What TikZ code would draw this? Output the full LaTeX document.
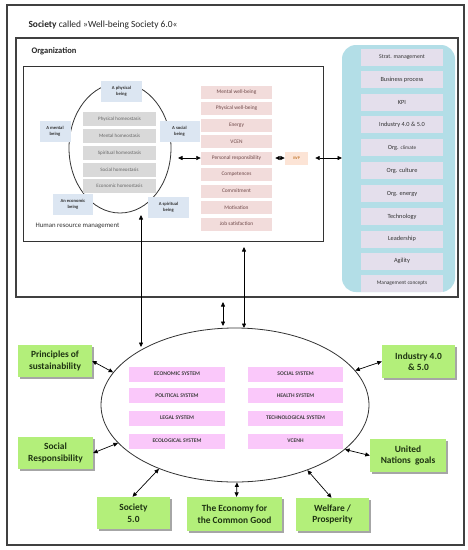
\documentclass[tikz,border=0pt]{standalone}
\usepackage{fontspec}
\setmainfont{Carlito}
\usetikzlibrary{shapes.geometric,arrows.meta,shadows}
\definecolor{bluebox}{HTML}{DCE6F2}
\definecolor{graybox}{HTML}{D9D9D9}
\definecolor{pinkbox}{HTML}{F2DCDB}
\definecolor{iwpbox}{HTML}{FCE4D6}
\definecolor{tealbg}{HTML}{B3DEE7}
\definecolor{lavbox}{HTML}{E4DFEC}
\definecolor{sysbox}{HTML}{FAC8FA}
\definecolor{greenbox}{HTML}{B3EF7A}
\definecolor{greentext}{HTML}{1E3312}
\definecolor{pinktext}{HTML}{6E4848}
\begin{document}
\begin{tikzpicture}[x=1pt,y=-1pt,
  dbl/.style={{Triangle[length=4.5pt,width=4pt]}-{Triangle[length=4.5pt,width=4pt]}, line width=0.7pt},
  frame/.style={draw=black!75, line width=1.1pt},
  hs/.style={fill=graybox, minimum width=73pt, minimum height=14pt, inner sep=0pt, font=\fontsize{5}{6}\selectfont, text=black!60},
  bb/.style={fill=bluebox, minimum width=41pt, minimum height=21pt, inner sep=0pt, align=center, font=\fontsize{4.6}{6}\selectfont\bfseries, text=black!80},
  pl/.style={fill=pinkbox, minimum width=71pt, minimum height=13pt, inner sep=0pt, font=\fontsize{5.4}{6.5}\selectfont, text=pinktext},
  ti/.style={fill=lavbox, minimum width=82pt, minimum height=17pt, inner sep=0pt, font=\fontsize{6.3}{7.5}\selectfont, text=black!80},
  sy/.style={fill=sysbox, minimum height=15pt, inner sep=0pt, font=\fontsize{5.6}{6.5}\selectfont\bfseries, text=black!75},
  gb/.style={fill=greenbox, inner sep=0pt, align=center, font=\fontsize{9.4}{11.5}\selectfont\bfseries, text=greentext,
    drop shadow={shadow xshift=1.5pt, shadow yshift=-1.5pt, fill=black!35, opacity=1}}
]
\useasboundingbox (0,0) rectangle (468,550);
\fill[white] (0,0) rectangle (468,550);

% frames
\draw[frame] (7,5) rectangle (464,545);
\draw[frame] (16,38) rectangle (458,297);
\draw[draw=black!80, line width=1pt] (23,66) rectangle (323,241);
\fill[tealbg, rounded corners=14pt] (342,45) rectangle (455,292);
\coordinate (tealW) at (342,158);

\node[anchor=west, font=\fontsize{9.4}{11}\selectfont, text=black!85] (title) at (25,25) {\textbf{Society} called »Well-being Society 6.0«};
\node[anchor=west, font=\fontsize{8.5}{10}\selectfont\bfseries, text=black!85] (org) at (28,51) {Organization};
\node[anchor=west, font=\fontsize{6.8}{8}\selectfont, text=black!80] (hrml) at (32,226) {Human resource management};

% HRM ellipse
\node[ellipse, draw=black!80, line width=0.8pt, minimum width=102pt, minimum height=130pt, inner sep=0pt] (hrme) at (120,148) {};

\node[hs] (h1) at (119.5,119) {Physical homeostasis};
\node[hs] (h2) at (119.5,136) {Mental homeostasis};
\node[hs] (h3) at (119.5,153) {Spiritual homeostasis};
\node[hs] (h4) at (119.5,169.5) {Social homeostasis};
\node[hs] (h5) at (119.5,186) {Economic homeostasis};

\node[bb] (pb) at (121.5,91.5) {A physical\\being};
\node[bb, minimum width=31pt] (mb) at (55,131.5) {A mental\\being};
\node[bb, minimum width=40pt] (sb) at (179.5,131.5) {A social\\being};
\node[bb, minimum width=40pt] (eb) at (73,204.5) {An economic\\being};
\node[bb] (spb) at (168.5,207.5) {A spiritual\\being};

% pink list
\node[pl] (p1) at (236.5,92) {Mental well-being};
\node[pl] (p2) at (236.5,108.5) {Physical well-being};
\node[pl] (p3) at (236.5,125) {Energy};
\node[pl] (p4) at (236.5,141.5) {VCEN};
\node[pl] (pr) at (236.5,158) {Personal responsibility};
\node[pl] (p6) at (236.5,174.5) {Competences};
\node[pl] (p7) at (236.5,191) {Commitment};
\node[pl] (p8) at (236.5,207.5) {Motivation};
\node[pl] (p9) at (236.5,224) {Job satisfaction};

\node[fill=iwpbox, minimum width=23pt, minimum height=13pt, inner sep=0pt, font=\fontsize{4}{4.5}\selectfont, text=orange!70!black] (iwp) at (296.5,158) {IWP};

% teal items
\node[ti, font=\fontsize{5.8}{6.5}\selectfont] (t1) at (402,57) {Strat. management};
\node[ti] (t2) at (402,79.5) {Business process};
\node[ti] (t3) at (402,102) {KPI};
\node[ti] (t4) at (402,124.5) {Industry 4.0 \& 5.0};
\node[ti] (t5) at (402,147.5) {Org. {\fontsize{5.2}{6}\selectfont climate}};
\node[ti] (t6) at (402,170.5) {Org. culture};
\node[ti] (t7) at (402,193.5) {Org. energy};
\node[ti] (t8) at (402,216.5) {Technology};
\node[ti] (t9) at (402,239) {Leadership};
\node[ti] (t10) at (402,261) {Agility};
\node[ti, font=\fontsize{5.4}{6}\selectfont] (t11) at (402,283) {Management concepts};

% society ellipse
\node[ellipse, draw=black!80, line width=0.8pt, minimum width=268pt, minimum height=154pt, inner sep=0pt] (soc) at (235,405) {};

\node[sy, minimum width=96pt] (s1) at (177,374) {ECONOMIC SYSTEM};
\node[sy, minimum width=96pt] (s2) at (177,395.5) {POLITICAL SYSTEM};
\node[sy, minimum width=96pt] (s3) at (177,418) {LEGAL SYSTEM};
\node[sy, minimum width=96pt] (s4) at (177,441) {ECOLOGICAL SYSTEM};
\node[sy, minimum width=95pt] (s5) at (295.5,374) {SOCIAL SYSTEM};
\node[sy, minimum width=95pt] (s6) at (295.5,395.5) {HEALTH SYSTEM};
\node[sy, minimum width=95pt] (s7) at (295.5,418) {TECHNOLOGICAL SYSTEM};
\node[sy, minimum width=95pt] (s8) at (295.5,441) {VCENH};

% green boxes
\node[gb, minimum width=74pt, minimum height=32pt] (ps) at (55,361) {Principles of\\sustainability};
\node[gb, minimum width=75pt, minimum height=32pt] (sr) at (55.5,453) {Social\\Responsibility};
\node[gb, minimum width=73pt, minimum height=32pt] (s50) at (133.5,513) {Society\\5.0};
\node[gb, minimum width=95pt, minimum height=34pt] (ecg) at (234.5,514) {The Economy for\\the Common Good};
\node[gb, minimum width=73pt, minimum height=33pt] (wp) at (332.5,514.5) {Welfare /\\Prosperity};
\node[gb, minimum width=73pt, minimum height=33pt] (ind) at (418.5,361.5) {Industry 4.0\\\&~5.0};
\node[gb, minimum width=76pt, minimum height=33pt] (un) at (408,455.5) {United\\Nations~ goals};

% connectors
\coordinate (hrmArr) at (178,158);
\draw[dbl] (hrmArr) -- (pr.west);
\draw[dbl, shorten <=3pt] (pr.east) -- (iwp.west);
\draw[dbl, shorten <=7pt] (iwp.east) -- (tealW);

\coordinate (v1t) at (141,215);
\coordinate (v1b) at (141,347);
\draw[dbl] (v1t) -- (v1b);
\coordinate (v2t) at (244,247);
\coordinate (v2b) at (244,328);
\draw[dbl] (v2t) -- (v2b);
\coordinate (v3t) at (223,302);
\coordinate (v3b) at (223,326);
\draw[dbl] (v3t) -- (v3b);

\draw[dbl] (ps.east) -- (soc.165.5);
\draw[dbl] (sr.east) -- (soc.198);
\draw[dbl] ([xshift=-1pt]s50.north) -- (soc.220);
\draw[dbl] ([xshift=2pt]ecg.north) -- ([xshift=2pt]soc.south);
\draw[dbl] ([xshift=-1pt]wp.north) -- (soc.318);
\draw[dbl] (ind.west) -- (soc.16);
\draw[dbl] (un.west) -- (soc.338.6);
\end{tikzpicture}
\end{document}
